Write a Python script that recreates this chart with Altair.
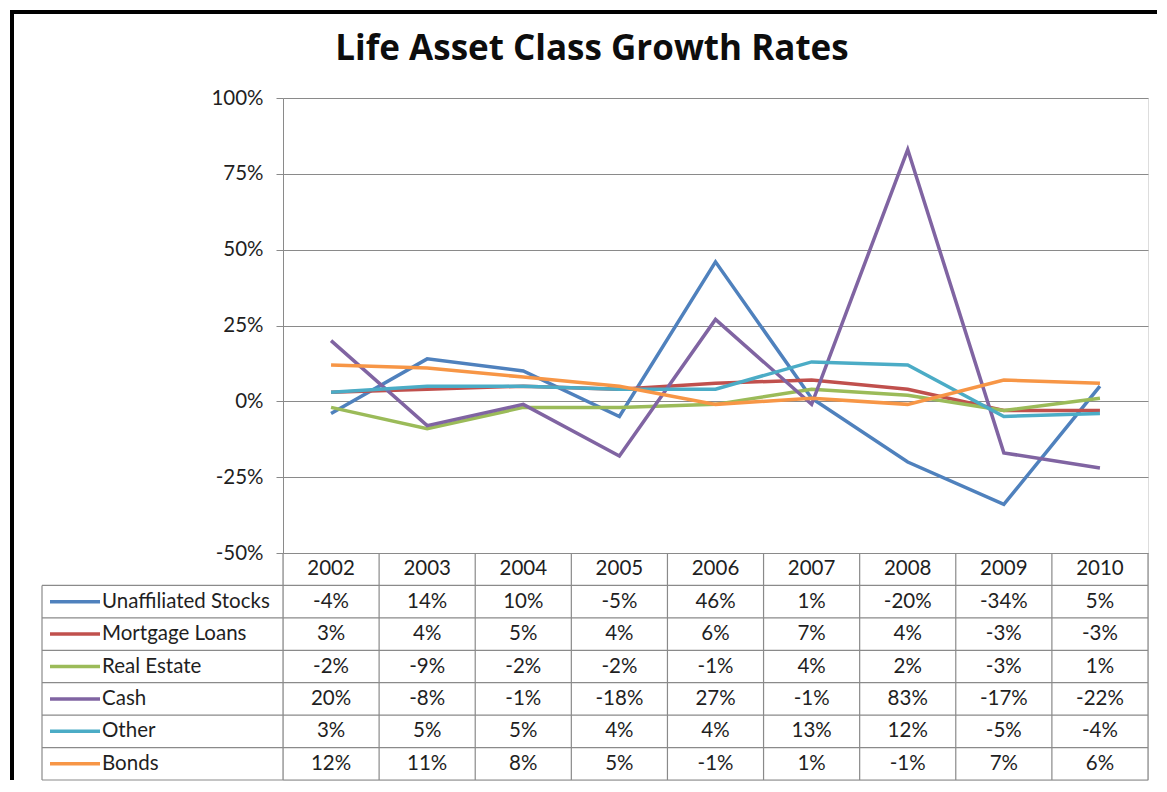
import altair as alt
import pandas as pd

# ---------------- data ----------------
years = ["2002", "2003", "2004", "2005", "2006", "2007", "2008", "2009", "2010"]
series = ["Unaffiliated Stocks", "Mortgage Loans", "Real Estate", "Cash", "Other", "Bonds"]
unaffiliated_stocks = [-4, 14, 10, -5, 46, 1, -20, -34, 5]
mortgage_loans = [3, 4, 5, 4, 6, 7, 4, -3, -3]
real_estate = [-2, -9, -2, -2, -1, 4, 2, -3, 1]
cash = [20, -8, -1, -18, 27, -1, 83, -17, -22]
other = [3, 5, 5, 4, 4, 13, 12, -5, -4]
bonds = [12, 11, 8, 5, -1, 1, -1, 7, 6]
colors = ["#4F81BD", "#C0504D", "#9BBB59", "#8064A2", "#4BACC6", "#F79646"]
y_ticks = [-50, -25, 0, 25, 50, 75, 100]
title_text = "Life Asset Class Growth Rates"
header_row = "Year"

values_by_series = [unaffiliated_stocks, mortgage_loans, real_estate, cash, other, bonds]
records = []
for s, vals in zip(series, values_by_series):
    for yr, v in zip(years, vals):
        records.append({"series": s, "year": yr, "value": v, "label": f"{v}%"})
df = pd.DataFrame(records)
df_years = pd.DataFrame({"year": years, "row": header_row})
df_series = pd.DataFrame({"series": series})
df_one = pd.DataFrame({"k": [0]})

# ---------------- layout ----------------
W, H = 865, 455
ROW = 227 / 7
TH = H + 7 * ROW
FONT = "Lato"
FS = 20.5
GRID = "#8a8a8a"
TXT = "#1f1f1f"
rows = [header_row] + series

xscale = alt.Scale(type="band", domain=years, paddingInner=0, paddingOuter=0)
tscale = alt.Scale(type="band", domain=rows, range=[H, TH], paddingInner=0, paddingOuter=0)
cscale = alt.Scale(domain=series, range=colors)

lines = alt.Chart(df).mark_line(strokeWidth=3.5).encode(
    x=alt.X("year:O", bandPosition=0.5, scale=xscale, axis=None),
    y=alt.Y(
        "value:Q",
        scale=alt.Scale(domain=[-50, 100], range=[H, 0], nice=False, zero=False),
        axis=alt.Axis(
            values=y_ticks, labelExpr="datum.value + '%'", grid=True,
            gridColor=GRID, gridWidth=1, domainColor=GRID, tickColor=GRID,
            tickSize=7, labelPadding=13, labelFont=FONT, labelFontSize=FS,
            labelColor=TXT, title=None,
        ),
    ),
    color=alt.Color("series:N", scale=cscale, legend=None),
    detail="series:N",
)

ty = lambda field, bp: alt.Y(field, bandPosition=bp, scale=tscale, axis=None)
tx = lambda bp: alt.X("year:O", bandPosition=bp, scale=xscale, axis=None)

header = alt.Chart(df_years).mark_text(font=FONT, fontSize=FS, color=TXT).encode(
    x=tx(0.5), y=ty("row:N", 0.5), text="year:N"
)
cells = alt.Chart(df).mark_text(font=FONT, fontSize=FS, color=TXT).encode(
    x=tx(0.5), y=ty("series:N", 0.5), text="label:N"
)
swatch = alt.Chart(df_series).mark_rule(strokeWidth=3.5).encode(
    x=alt.value(-233), x2=alt.value(-183), y=ty("series:N", 0.5),
    color=alt.Color("series:N", scale=cscale, legend=None),
)
names = alt.Chart(df_series).mark_text(
    font=FONT, fontSize=FS, color=TXT, align="left", baseline="middle"
).encode(x=alt.value(-181), y=ty("series:N", 0.5), text="series:N")

hlines = alt.Chart(df_series).mark_rule(color=GRID, strokeWidth=1.2).encode(
    y=ty("series:N", 0), x=alt.value(-241), x2=alt.value(W)
)
bottom_line = alt.Chart(df_one).mark_rule(color=GRID, strokeWidth=1.2).encode(
    y=alt.value(TH), x=alt.value(-241), x2=alt.value(W)
)
vlines = alt.Chart(df_years).mark_rule(color=GRID, strokeWidth=1.2).encode(
    x=tx(0), y=alt.value(H), y2=alt.value(TH)
)
right_line = alt.Chart(df_one).mark_rule(color=GRID, strokeWidth=1.2).encode(
    x=alt.value(W), y=alt.value(H), y2=alt.value(TH)
)
left_line = alt.Chart(df_one).mark_rule(color=GRID, strokeWidth=1.2).encode(
    x=alt.value(-241), y=alt.value(H + ROW), y2=alt.value(TH)
)

frame_left = alt.Chart(df_one).mark_rule(color="#000000", strokeWidth=4).encode(
    x=alt.value(-271), y=alt.value(-88), y2=alt.value(TH)
)
frame_top = alt.Chart(df_one).mark_rule(color="#000000", strokeWidth=4).encode(
    y=alt.value(-86), x=alt.value(-273), x2=alt.value(874)
)
title = alt.Chart(df_one).mark_text(
    font="Open Sans", fontSize=35, fontWeight="bold", color="#0d0d0d",
    baseline="alphabetic",
).encode(x=alt.value(309), y=alt.value(-38), text=alt.value(title_text))

chart = alt.layer(
    lines, header, cells, swatch, names, hlines, bottom_line, vlines,
    right_line, left_line, frame_left, frame_top, title,
).resolve_scale(y="independent").properties(
    width=W, height=TH, padding=0
).configure_view(stroke=None).configure(background="white")

chart.save("out.html", embed_options={"renderer": "svg", "actions": False})
